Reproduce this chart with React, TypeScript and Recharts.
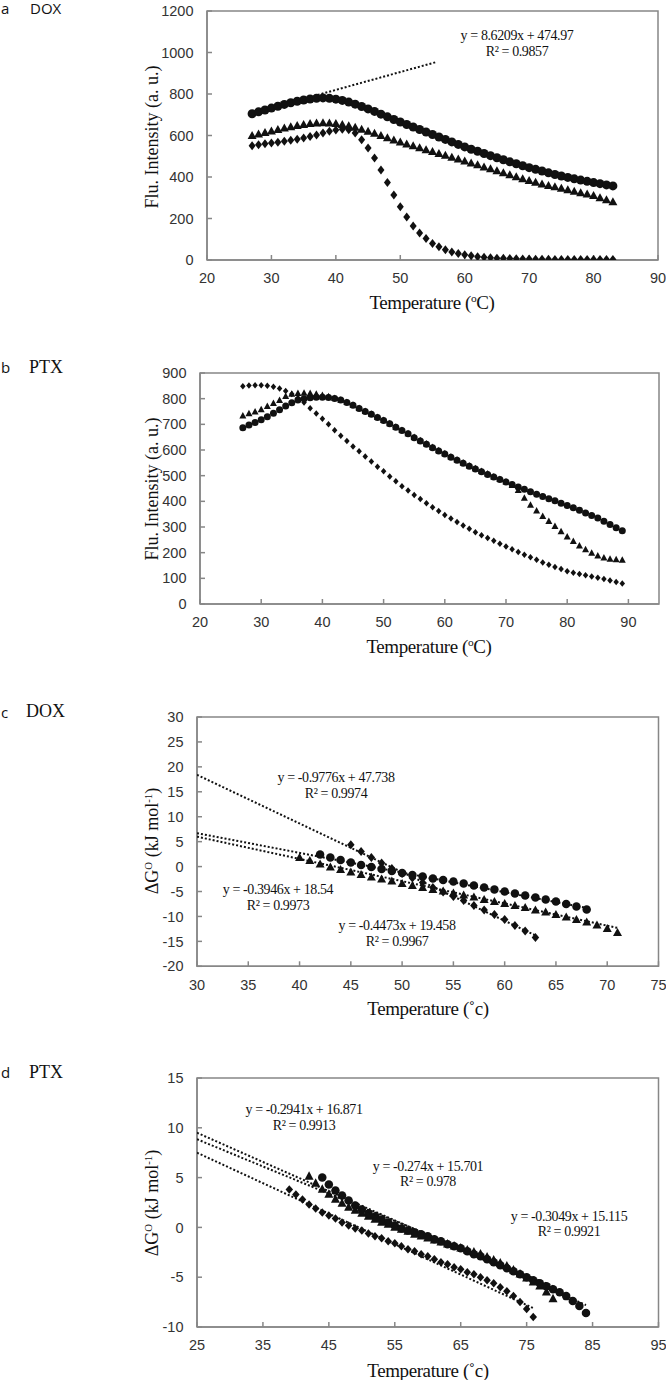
import React from 'react';
import { ScatterChart, Scatter, XAxis, YAxis, ReferenceArea } from 'recharts';

// ---- panel a (DOX, fluorescence) ----
const aTemps = [27, 28, 29, 30, 31, 32, 33, 34, 35, 36, 37, 38, 39, 40, 41, 42, 43, 44, 45, 46, 47, 48, 49, 50, 51, 52, 53, 54, 55, 56, 57, 58, 59, 60, 61, 62, 63, 64, 65, 66, 67, 68, 69, 70, 71, 72, 73, 74, 75, 76, 77, 78, 79, 80, 81, 82, 83];
const aCircle = [705, 714, 723, 732, 741, 750, 758, 765, 771, 776, 779, 781, 779, 775, 769, 761, 751, 740, 728, 716, 703, 690, 677, 665, 653, 641, 629, 617, 605, 593, 581, 569, 557, 545, 534, 524, 513, 503, 493, 483, 473, 464, 454, 445, 437, 429, 420, 412, 405, 398, 391, 385, 379, 373, 368, 362, 357];
const aTriangle = [602, 610, 617, 624, 631, 638, 645, 651, 656, 660, 663, 664, 663, 660, 656, 650, 642, 633, 623, 613, 602, 592, 581, 571, 562, 553, 543, 534, 525, 516, 507, 498, 489, 480, 470, 461, 451, 442, 432, 423, 413, 404, 394, 385, 377, 369, 362, 355, 348, 341, 334, 327, 320, 313, 303, 293, 283];
const aDiamond = [551, 556, 560, 564, 568, 572, 577, 582, 588, 595, 603, 612, 620, 626, 630, 628, 612, 580, 540, 492, 434, 374, 313, 257, 207, 164, 130, 104, 80, 64, 50, 39, 31, 25, 20, 16, 13, 11, 9, 8, 7, 6, 5, 5, 4, 4, 4, 3, 3, 3, 3, 2, 2, 2, 2, 2, 2];
const aTrend = [{ x: 27, y: 708 }, { x: 55.6, y: 954 }];
const aXTicks = [20, 30, 40, 50, 60, 70, 80, 90];
const aYTicks = [0, 200, 400, 600, 800, 1000, 1200];

// ---- panel b (PTX, fluorescence) ----
const bTemps = [27, 28, 29, 30, 31, 32, 33, 34, 35, 36, 37, 38, 39, 40, 41, 42, 43, 44, 45, 46, 47, 48, 49, 50, 51, 52, 53, 54, 55, 56, 57, 58, 59, 60, 61, 62, 63, 64, 65, 66, 67, 68, 69, 70, 71, 72, 73, 74, 75, 76, 77, 78, 79, 80, 81, 82, 83, 84, 85, 86, 87, 88, 89];
const bCircle = [687, 697, 707, 718, 730, 743, 757, 771, 784, 795, 800, 804, 806, 806, 805, 801, 795, 785, 774, 762, 750, 739, 727, 715, 702, 689, 676, 663, 648, 635, 622, 609, 596, 584, 572, 560, 548, 537, 526, 515, 505, 495, 485, 475, 466, 456, 447, 437, 428, 419, 410, 402, 393, 384, 375, 365, 355, 345, 335, 322, 310, 297, 285];
const bTriangle = [735, 744, 751, 760, 772, 784, 796, 811, 820, 823, 824, 823, 820, 815, 810, 804, 797, 788, 777, 765, 753, 742, 730, 718, 705, 692, 679, 666, 652, 639, 626, 613, 600, 588, 576, 564, 552, 541, 530, 519, 509, 498, 488, 478, 465, 445, 415, 388, 365, 344, 324, 305, 284, 264, 246, 229, 214, 201, 190, 182, 177, 175, 173];
const bDiamond = [848, 851, 852, 852, 850, 846, 840, 830, 818, 803, 785, 763, 742, 722, 700, 677, 656, 635, 614, 595, 575, 555, 535, 517, 497, 478, 459, 442, 425, 409, 393, 377, 362, 347, 333, 319, 306, 293, 280, 268, 257, 246, 235, 224, 213, 203, 192, 182, 172, 162, 153, 144, 136, 128, 122, 117, 112, 107, 102, 97, 92, 86, 80];
const bXTicks = [20, 30, 40, 50, 60, 70, 80, 90];
const bYTicks = [0, 100, 200, 300, 400, 500, 600, 700, 800, 900];

// ---- panel c (DOX, ΔG) ----
const cCircleT = [42, 43, 44, 45, 46, 47, 48, 49, 50, 51, 52, 53, 54, 55, 56, 57, 58, 59, 60, 61, 62, 63, 64, 65, 66, 67, 68];
const cCircle = [2.4, 1.8, 1.3, 0.8, 0.3, -0.1, -0.5, -0.9, -1.3, -1.7, -2.0, -2.4, -2.7, -3.0, -3.4, -3.8, -4.2, -4.6, -5.0, -5.4, -5.8, -6.2, -6.6, -7.0, -7.5, -8.0, -8.6];
const cTriangleT = [40, 41, 42, 43, 44, 45, 46, 47, 48, 49, 50, 51, 52, 53, 54, 55, 56, 57, 58, 59, 60, 61, 62, 63, 64, 65, 66, 67, 68, 69, 70, 71];
const cTriangle = [1.9, 1.3, 0.6, 0.0, -0.5, -1.0, -1.5, -2.0, -2.4, -2.8, -3.3, -3.7, -4.1, -4.5, -4.8, -5.2, -5.6, -6.0, -6.5, -6.9, -7.3, -7.7, -8.1, -8.6, -9.0, -9.5, -10.0, -10.5, -11.0, -11.6, -12.3, -13.1];
const cDiamondT = [45, 46, 47, 48, 49, 50, 51, 52, 53, 54, 55, 56, 57, 58, 59, 60, 61, 62, 63];
const cDiamond = [4.4, 3.0, 1.8, 0.7, -0.4, -1.4, -2.3, -3.2, -4.2, -5.1, -6.0, -6.8, -7.8, -8.7, -9.6, -10.6, -11.8, -12.9, -14.2];
const cTrendDiamond = [{ x: 30, y: 18.4 }, { x: 63, y: -13.8 }];
const cTrendCircle = [{ x: 30, y: 6.7 }, { x: 68, y: -8.3 }];
const cTrendTriangle = [{ x: 30, y: 6.0 }, { x: 71, y: -12.3 }];
const cXTicks = [30, 35, 40, 45, 50, 55, 60, 65, 70, 75];
const cYTicks = [-20, -15, -10, -5, 0, 5, 10, 15, 20, 25, 30];

// ---- panel d (PTX, ΔG) ----
const dCircleT = [44, 45, 46, 47, 48, 49, 50, 51, 52, 53, 54, 55, 56, 57, 58, 59, 60, 61, 62, 63, 64, 65, 66, 67, 68, 69, 70, 71, 72, 73, 74, 75, 76, 77, 78, 79, 80, 81, 82, 83, 84];
const dCircle = [5.0, 4.3, 3.7, 3.2, 2.7, 2.2, 1.8, 1.4, 1.1, 0.8, 0.5, 0.2, -0.1, -0.3, -0.5, -0.7, -0.9, -1.2, -1.4, -1.7, -1.9, -2.1, -2.4, -2.7, -2.9, -3.2, -3.5, -3.8, -4.1, -4.4, -4.7, -5.0, -5.3, -5.6, -5.9, -6.2, -6.5, -6.9, -7.4, -7.9, -8.6];
const dTriangleT = [42, 43, 44, 45, 46, 47, 48, 49, 50, 51, 52, 53, 54, 55, 56, 57, 58, 59, 60, 61, 62, 63, 64, 65, 66, 67, 68, 69, 70, 71, 72, 73, 74, 75, 76, 77, 78, 79];
const dTriangle = [5.2, 4.5, 3.9, 3.4, 2.9, 2.5, 2.1, 1.8, 1.5, 1.2, 0.9, 0.6, 0.4, 0.1, -0.1, -0.3, -0.6, -0.8, -1.0, -1.2, -1.4, -1.6, -1.8, -2.0, -2.2, -2.4, -2.6, -2.9, -3.2, -3.5, -3.8, -4.2, -4.6, -5.0, -5.4, -5.8, -6.4, -7.1];
const dDiamondT = [39, 40, 41, 42, 43, 44, 45, 46, 47, 48, 49, 50, 51, 52, 53, 54, 55, 56, 57, 58, 59, 60, 61, 62, 63, 64, 65, 66, 67, 68, 69, 70, 71, 72, 73, 74, 75, 76];
const dDiamond = [3.8, 3.3, 2.8, 2.3, 1.9, 1.5, 1.2, 0.9, 0.5, 0.2, -0.1, -0.3, -0.6, -0.9, -1.1, -1.4, -1.6, -1.9, -2.2, -2.4, -2.7, -2.9, -3.2, -3.5, -3.7, -4.0, -4.2, -4.5, -4.7, -5.0, -5.3, -5.6, -6.0, -6.4, -6.9, -7.5, -8.2, -9.0];
const dTrendCircle = [{ x: 25, y: 9.5 }, { x: 84, y: -7.8 }];
const dTrendTriangle = [{ x: 25, y: 8.85 }, { x: 79, y: -5.9 }];
const dTrendDiamond = [{ x: 25, y: 7.5 }, { x: 76, y: -8.1 }];
const dXTicks = [25, 35, 45, 55, 65, 75, 85, 95];
const dYTicks = [-10, -5, 0, 5, 10, 15];

const INK = '#111';
const AXIS = '#878787';
const SERIF = '"Liberation Serif", "Times New Roman", serif';
const TICKFONT = '"Liberation Sans Narrow", "Liberation Sans", Arial, sans-serif';

type Pt = { x: number; y: number };
const zip = (xs: number[], ys: number[]): Pt[] => xs.map((x, i) => ({ x, y: ys[i] }));

type Kind = 'circle' | 'triangle' | 'diamond';

const markerShape = (kind: Kind, w: number, h: number) => (props: any) => {
  const { cx, cy } = props;
  if (cx == null || cy == null) return <g />;
  if (kind === 'circle') return <circle cx={cx} cy={cy} r={w / 2} fill={INK} />;
  if (kind === 'triangle')
    return <polygon points={`${cx},${cy - h / 2} ${cx + w / 2},${cy + h / 2} ${cx - w / 2},${cy + h / 2}`} fill={INK} />;
  return <polygon points={`${cx},${cy - h / 2} ${cx + w / 2},${cy} ${cx},${cy + h / 2} ${cx - w / 2},${cy}`} fill={INK} />;
};

interface SeriesDef {
  data: Pt[];
  kind: Kind;
  w: number;
  h: number;
}

interface PanelProps {
  left: number;
  right: number;
  top: number;
  bottom: number;
  xDomain: [number, number];
  xTicks: number[];
  yDomain: [number, number];
  yTicks: number[];
  series: SeriesDef[];
  trends: Pt[][];
}

const Panel: React.FC<PanelProps> = ({ left, right, top, bottom, xDomain, xTicks, yDomain, yTicks, series, trends }) => {
  const padTop = 10;
  const axisH = 30;
  const yW = 40;
  const height = bottom - top + padTop + axisH;
  const tick = { fill: '#333', fontSize: 14.5, fontFamily: TICKFONT };
  return (
    <div style={{ position: 'absolute', left: 0, top: top - padTop, width: 666, height }}>
      <ScatterChart
        width={666}
        height={height}
        margin={{ top: padTop, right: 666 - right, bottom: 0, left: left - yW }}
      >
        <XAxis
          type="number"
          dataKey="x"
          domain={xDomain}
          ticks={xTicks}
          interval={0}
          allowDataOverflow
          height={axisH}
          tickSize={-5}
          tickMargin={18}
          stroke={AXIS}
          strokeWidth={1.5}
          tick={tick}
        />
        <YAxis
          type="number"
          dataKey="y"
          domain={yDomain}
          ticks={yTicks}
          interval={0}
          allowDataOverflow
          width={yW}
          tickSize={-5}
          tickMargin={18.5}
          stroke={AXIS}
          strokeWidth={1.5}
          tick={tick}
        />
        <ReferenceArea
          x1={xDomain[0]}
          x2={xDomain[1]}
          y1={yDomain[0]}
          y2={yDomain[1]}
          fill="none"
          stroke={AXIS}
          strokeWidth={1.5}
          ifOverflow="visible"
        />
        {trends.map((t, i) => (
          <Scatter
            key={'t' + i}
            data={t}
            line={{ stroke: INK, strokeWidth: 2, strokeDasharray: '2 2' }}
            shape={() => <g />}
            isAnimationActive={false}
          />
        ))}
        {series.map((s, i) => (
          <Scatter key={'s' + i} data={s.data} shape={markerShape(s.kind, s.w, s.h)} isAnimationActive={false} />
        ))}
      </ScatterChart>
    </div>
  );
};

const Txt: React.FC<{ x: number; y: number; style?: React.CSSProperties; anchor?: 'left' | 'center'; rotate?: boolean; children: React.ReactNode }> = ({
  x,
  y,
  style,
  anchor = 'center',
  rotate,
  children,
}) => (
  <div
    style={{
      position: 'absolute',
      left: x,
      top: y,
      transform: `translate(${anchor === 'center' ? '-50%' : '0'}, -50%)${rotate ? ' rotate(-90deg)' : ''}`,
      whiteSpace: 'nowrap',
      lineHeight: 1,
      color: INK,
      ...style,
    }}
  >
    {children}
  </div>
);

const eqStyle: React.CSSProperties = { fontFamily: SERIF, fontSize: 14, letterSpacing: -0.4 };
const titleStyle: React.CSSProperties = { fontFamily: SERIF, fontSize: 19, letterSpacing: -0.4 };
const yTitleStyle: React.CSSProperties = { fontFamily: SERIF, fontSize: 18 };
const letterStyle: React.CSSProperties = { fontFamily: '"Open Sans", sans-serif', fontSize: 15 };
const wordStyle: React.CSSProperties = { fontFamily: SERIF, fontSize: 18 };
const sup: React.CSSProperties = { fontSize: '0.6em', verticalAlign: '0.6em' };

const App: React.FC = () => (
  <div style={{ position: 'absolute', left: 0, top: 0, width: 666, height: 1380, background: '#fff' }}>
    {/* a */}
    <Panel
      left={207}
      right={658}
      top={11}
      bottom={260}
      xDomain={[20, 90]}
      xTicks={aXTicks}
      yDomain={[0, 1200]}
      yTicks={aYTicks}
      trends={[aTrend]}
      series={[
        { data: zip(aTemps, aDiamond), kind: 'diamond', w: 7, h: 9 },
        { data: zip(aTemps, aTriangle), kind: 'triangle', w: 9, h: 8 },
        { data: zip(aTemps, aCircle), kind: 'circle', w: 9, h: 9 },
      ]}
    />
    <Txt x={1} y={8} anchor="left" style={letterStyle}>a</Txt>
    <Txt x={30} y={8} anchor="left" style={letterStyle}>DOX</Txt>
    <Txt x={517} y={36} style={eqStyle}>y = 8.6209x + 474.97</Txt>
    <Txt x={517} y={52} style={eqStyle}>R² = 0.9857</Txt>
    <Txt x={152} y={137} rotate style={yTitleStyle}>Flu. Intensity (a. u.)</Txt>
    <Txt x={432} y={302} style={titleStyle}>
      Temperature (<span style={sup}>o</span>C)
    </Txt>

    {/* b */}
    <Panel
      left={200}
      right={659}
      top={372.5}
      bottom={603.5}
      xDomain={[20, 95]}
      xTicks={bXTicks}
      yDomain={[0, 900]}
      yTicks={bYTicks}
      trends={[]}
      series={[
        { data: zip(bTemps, bDiamond), kind: 'diamond', w: 5.5, h: 6.5 },
        { data: zip(bTemps, bCircle), kind: 'circle', w: 7, h: 7 },
        { data: zip(bTemps, bTriangle), kind: 'triangle', w: 7, h: 6.5 },
      ]}
    />
    <Txt x={1} y={367} anchor="left" style={letterStyle}>b</Txt>
    <Txt x={29} y={367} anchor="left" style={wordStyle}>PTX</Txt>
    <Txt x={152} y={489} rotate style={yTitleStyle}>Flu. Intensity (a. u.)</Txt>
    <Txt x={429} y={646} style={titleStyle}>
      Temperature (<span style={sup}>o</span>C)
    </Txt>

    {/* c */}
    <Panel
      left={197}
      right={658.5}
      top={716.7}
      bottom={966}
      xDomain={[30, 75]}
      xTicks={cXTicks}
      yDomain={[-20, 30]}
      yTicks={cYTicks}
      trends={[cTrendDiamond, cTrendCircle, cTrendTriangle]}
      series={[
        { data: zip(cDiamondT, cDiamond), kind: 'diamond', w: 7.5, h: 9 },
        { data: zip(cCircleT, cCircle), kind: 'circle', w: 8.5, h: 8.5 },
        { data: zip(cTriangleT, cTriangle), kind: 'triangle', w: 9, h: 8 },
      ]}
    />
    <Txt x={1} y={712} anchor="left" style={letterStyle}>c</Txt>
    <Txt x={26} y={711} anchor="left" style={wordStyle}>DOX</Txt>
    <Txt x={336} y={778} style={eqStyle}>y = -0.9776x + 47.738</Txt>
    <Txt x={336} y={794} style={eqStyle}>R² = 0.9974</Txt>
    <Txt x={278} y={890} style={eqStyle}>y = -0.3946x + 18.54</Txt>
    <Txt x={278} y={906} style={eqStyle}>R² = 0.9973</Txt>
    <Txt x={397} y={926} style={eqStyle}>y = -0.4473x + 19.458</Txt>
    <Txt x={397} y={942} style={eqStyle}>R² = 0.9967</Txt>
    <Txt x={152} y={841} rotate style={yTitleStyle}>
      ΔG<span style={sup}>O</span> (kJ mol<span style={sup}>-1</span>)
    </Txt>
    <Txt x={428} y={1008} style={titleStyle}>Temperature (˚c)</Txt>

    {/* d */}
    <Panel
      left={197}
      right={658.5}
      top={1078}
      bottom={1327}
      xDomain={[25, 95]}
      xTicks={dXTicks}
      yDomain={[-10, 15]}
      yTicks={dYTicks}
      trends={[dTrendCircle, dTrendTriangle, dTrendDiamond]}
      series={[
        { data: zip(dDiamondT, dDiamond), kind: 'diamond', w: 7.5, h: 8.5 },
        { data: zip(dCircleT, dCircle), kind: 'circle', w: 8.5, h: 8.5 },
        { data: zip(dTriangleT, dTriangle), kind: 'triangle', w: 9, h: 8.5 },
      ]}
    />
    <Txt x={1} y={1072} anchor="left" style={letterStyle}>d</Txt>
    <Txt x={29} y={1072} anchor="left" style={wordStyle}>PTX</Txt>
    <Txt x={304} y={1110} style={eqStyle}>y = -0.2941x + 16.871</Txt>
    <Txt x={304} y={1126} style={eqStyle}>R² = 0.9913</Txt>
    <Txt x={428} y={1167} style={eqStyle}>y = -0.274x + 15.701</Txt>
    <Txt x={428} y={1182} style={eqStyle}>R² = 0.978</Txt>
    <Txt x={569} y={1217} style={eqStyle}>y = -0.3049x + 15.115</Txt>
    <Txt x={569} y={1232} style={eqStyle}>R² = 0.9921</Txt>
    <Txt x={152} y={1203} rotate style={yTitleStyle}>
      ΔG<span style={sup}>O</span> (kJ mol<span style={sup}>-1</span>)
    </Txt>
    <Txt x={428} y={1370} style={titleStyle}>Temperature (˚c)</Txt>
  </div>
);

export default App;
